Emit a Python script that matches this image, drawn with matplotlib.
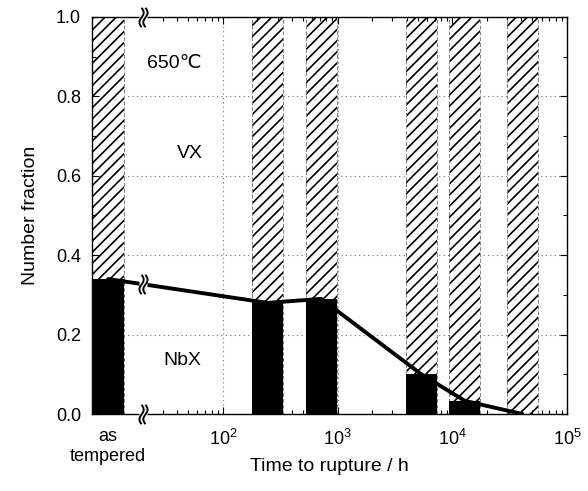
import numpy as np
import matplotlib
matplotlib.use("Agg")
import matplotlib.pyplot as plt
from matplotlib.path import Path
from matplotlib.ticker import FixedLocator, NullFormatter

plt.rcParams["font.family"] = ["Liberation Sans", "DejaVu Sans"]
plt.rcParams["mathtext.fontset"] = "custom"
plt.rcParams["mathtext.rm"] = "Liberation Sans"
plt.rcParams["hatch.linewidth"] = 1.2

# rupture times (h); the first entry is the "as tempered" state drawn left of the break
AS_TEMPERED_POS = 10.0
TIMES = [245.0, 722.0, 5380.0, 12900.0, 40800.0]
NBX_TEMPERED = 0.34
NBX = [0.28, 0.29, 0.10, 0.033, 0.0]
BREAK_X = 20.0
HALF_W = 0.135  # bar half width in decades

positions = [AS_TEMPERED_POS] + TIMES
nbx = [NBX_TEMPERED] + NBX
lefts = [p * 10 ** -HALF_W for p in positions]
rights = [p * 10 ** HALF_W for p in positions]
widths = [r - l for l, r in zip(lefts, rights)]

fig = plt.figure(figsize=(5.88, 4.91), dpi=100)
ax = fig.add_axes([0.1565, 0.1568, 0.8078, 0.8086])
ax.set_xscale("log")
ax.set_xlim(10 ** 0.86, 1e5)
ax.set_ylim(0, 1)

# grid
for g in [0.2, 0.4, 0.6, 0.8]:
    ax.axhline(g, color="0.45", lw=0.8, ls=(0, (1, 3)), zorder=0)
for g in [1e2, 1e3, 1e4]:
    ax.axvline(g, color="0.45", lw=0.8, ls=(0, (1, 3)), zorder=0)

# VX (hatched, full height) and NbX (black) bars
ax.bar(lefts, [1.0] * len(lefts), width=widths, align="edge",
       facecolor="white", edgecolor="black", linewidth=0, hatch="///", zorder=1)
ax.vlines(lefts[1:] + rights, 0, 1, colors="0.5", linestyles=(0, (4, 2)),
          lw=0.7, zorder=2)
ax.bar(lefts, nbx, width=widths, align="edge", color="black", linewidth=0, zorder=3)

# trend line
ax.plot(positions, nbx, color="black", lw=2.8, zorder=4, solid_capstyle="round")

# axis break marks
t = np.linspace(-1, 1, 25)
wave = 0.22 * np.sin(np.pi * t)
verts = [(x - 0.2, y) for x, y in zip(wave, t)] + [(x + 0.2, y) for x, y in zip(wave, t)]
codes = ([Path.MOVETO] + [Path.LINETO] * (len(t) - 1)) * 2
squiggle = Path(verts, codes)
blank = Path([(-0.3, -0.8), (0.3, -0.8), (0.3, 0.8), (-0.3, 0.8), (-0.3, -0.8)],
             [Path.MOVETO, Path.LINETO, Path.LINETO, Path.LINETO, Path.CLOSEPOLY])
line_y = np.interp(np.log10(BREAK_X), np.log10(positions[:2]), nbx[:2])
for yb in [0.0, 1.0, line_y]:
    ax.plot([BREAK_X], [yb], marker=blank, ms=14, mfc="white", mec="none",
            clip_on=False, zorder=6)
    ax.plot([BREAK_X], [yb], marker=squiggle, ms=14, mfc="none", mec="black",
            mew=1.4, clip_on=False, zorder=7)

# ticks
ax.xaxis.set_major_locator(FixedLocator([1e2, 1e3, 1e4, 1e5]))
minor = [k * 10 ** d for d in range(1, 5) for k in range(2, 10) if k * 10 ** d > BREAK_X]
ax.xaxis.set_minor_locator(FixedLocator(minor))
ax.xaxis.set_minor_formatter(NullFormatter())
ax.set_yticks(np.arange(0, 1.01, 0.2))
ax.set_yticks(np.arange(0.1, 1.0, 0.2), minor=True)
ax.set_yticklabels([f"{v:.1f}" for v in np.arange(0, 1.01, 0.2)])
ax.tick_params(which="both", direction="in", top=True, right=True, labelsize=13,
               width=0.8)
ax.tick_params(axis="x", which="both", pad=11)
ax.tick_params(axis="y", which="both", pad=8)
ax.tick_params(which="major", length=5)
ax.tick_params(which="minor", length=3)
for s in ax.spines.values():
    s.set_linewidth(1.0)

ax.text(AS_TEMPERED_POS, -0.035, "as\ntempered", ha="center", va="top",
        fontsize=13, linespacing=1.2, transform=ax.get_xaxis_transform())

# annotations
ax.text(38, 0.884, "650\u2103", ha="center", va="center", fontsize=14, zorder=8)
ax.text(51.5, 0.657, "VX", ha="center", va="center", fontsize=14, zorder=8)
ax.text(44, 0.136, "NbX", ha="center", va="center", fontsize=14, zorder=8)

ax.set_xlabel("Time to rupture / h", fontsize=14, labelpad=6)
ax.set_ylabel("Number fraction", fontsize=14, labelpad=12)

fig.savefig("out.png", dpi=100)
